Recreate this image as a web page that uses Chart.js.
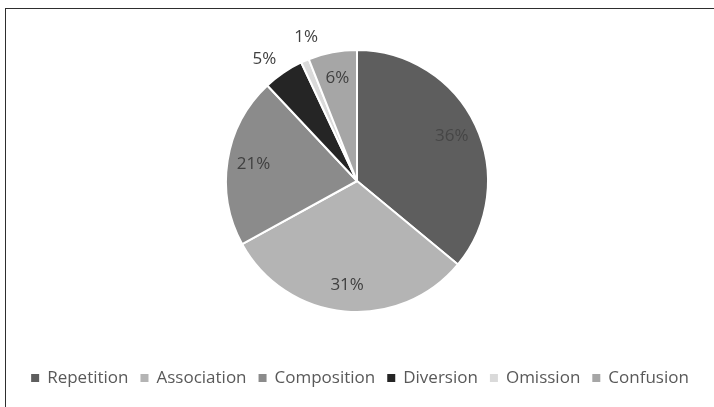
<!DOCTYPE html>
<html>
<head>
<meta charset="utf-8">
<script src="https://cdn.jsdelivr.net/npm/chart.js@4"></script>
<style>
  html, body { margin: 0; padding: 0; background: #fff; }
  #wrap { position: relative; width: 714px; height: 407px; overflow: hidden; }
  #frame { position: absolute; left: 5px; top: 8px; width: 800px; height: 500px;
           border-top: 1px solid #2e2e2e; border-left: 1px solid #2e2e2e; }
  canvas { position: absolute; left: 0; top: 0; }
</style>
</head>
<body>
<div id="wrap">
  <div id="frame"></div>
  <canvas id="pie" width="714" height="407"></canvas>
</div>
<script>
const categories = ['Repetition', 'Association', 'Composition', 'Diversion', 'Omission', 'Confusion'];
const shares = [36, 31, 21, 5, 1, 6];
const sliceColors = ['#5e5e5e', '#b4b4b4', '#8b8b8b', '#252525', '#dadada', '#a6a6a6'];
// small slices get their label outside the pie, spread apart a little
const outsideLabels = [false, false, false, true, true, false];
const labelSpreadDeg = [0, 0, 0, -3, 4, 0];

const FONT = '"Open Sans", "Noto Sans", sans-serif';

// percent labels placed from each arc's own geometry
const sliceLabels = {
    id: 'sliceLabels',
    afterDatasetsDraw(chart) {
        const ctx = chart.ctx;
        const meta = chart.getDatasetMeta(0);
        ctx.save();
        ctx.font = '17px ' + FONT;
        ctx.textAlign = 'center';
        ctx.textBaseline = 'middle';
        meta.data.forEach((arc, i) => {
            const mid = (arc.startAngle + arc.endAngle) / 2 + labelSpreadDeg[i] * Math.PI / 180;
            const r = outsideLabels[i] ? arc.outerRadius + 22 : arc.outerRadius * 0.8;
            const x = arc.x + Math.cos(mid) * r;
            const y = arc.y + Math.sin(mid) * r;
            ctx.fillStyle = i === 0 ? '#464646' : '#404040';
            ctx.fillText(shares[i] + '%', x, y);
        });
        ctx.restore();
    }
};

// single-row legend under the pie
const bottomLegend = {
    id: 'bottomLegend',
    afterDraw(chart) {
        const ctx = chart.ctx;
        ctx.save();
        ctx.font = '17px ' + FONT;
        ctx.textBaseline = 'middle';
        const box = 8, gapText = 8, gapItem = 12;
        let total = 0;
        categories.forEach((c, i) => {
            total += box + gapText + ctx.measureText(c).width + (i < categories.length - 1 ? gapItem : 0);
        });
        let x = 360 - total / 2;
        const y = 378;
        categories.forEach((c, i) => {
            ctx.fillStyle = sliceColors[i];
            ctx.fillRect(x, y - box / 2, box, box);
            x += box + gapText;
            ctx.fillStyle = '#595959';
            ctx.fillText(c, x, y);
            x += ctx.measureText(c).width + gapItem;
        });
        ctx.restore();
    }
};

new Chart(document.getElementById('pie'), {
    type: 'pie',
    data: {
        labels: categories,
        datasets: [{
            data: shares,
            backgroundColor: sliceColors,
            borderColor: '#ffffff',
            borderWidth: 2
        }]
    },
    options: {
        responsive: false,
        animation: false,
        layout: { padding: { top: 49, bottom: 94, left: 0, right: 0 } },
        plugins: {
            legend: { display: false },
            tooltip: { enabled: false }
        }
    },
    plugins: [sliceLabels, bottomLegend]
});
</script>
</body>
</html>
